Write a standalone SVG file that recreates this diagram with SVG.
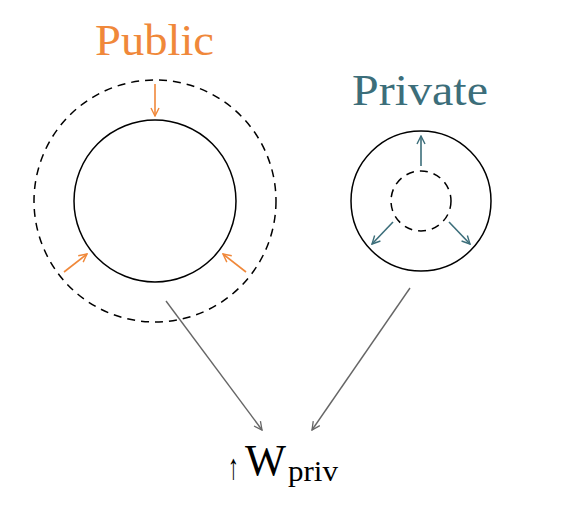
<svg xmlns="http://www.w3.org/2000/svg" width="562" height="518" viewBox="0 0 562 518">
<style>
.solid{fill:none;stroke:#000;stroke-width:1.5}
.dash{fill:none;stroke:#000;stroke-width:1.5;stroke-dasharray:8,6}
.or{stroke:#F0883A;stroke-width:1.6;fill:none}
.tl{stroke:#3C6E7A;stroke-width:1.6;fill:none}
.gr{stroke:#666;stroke-width:1.4;fill:none}
text{font-family:"Liberation Serif","DejaVu Serif",serif}
</style>
<defs>
<marker id="ao" viewBox="0 0 10 10" refX="9" refY="5" markerWidth="10" markerHeight="10" markerUnits="userSpaceOnUse" orient="auto"><path d="M1,1 L9,5 L1,9" fill="none" stroke="#F0883A" stroke-width="1.4"/></marker>
<marker id="at" viewBox="0 0 10 10" refX="9" refY="5" markerWidth="10" markerHeight="10" markerUnits="userSpaceOnUse" orient="auto"><path d="M1,1 L9,5 L1,9" fill="none" stroke="#3C6E7A" stroke-width="1.4"/></marker>
<marker id="ag" viewBox="0 0 10 10" refX="9" refY="5" markerWidth="10" markerHeight="10" markerUnits="userSpaceOnUse" orient="auto"><path d="M1,1 L9,5 L1,9" fill="none" stroke="#666" stroke-width="1.3"/></marker>
</defs>
<g id="public">
<text x="95" y="55" font-size="44" fill="#F0883A" textLength="119" lengthAdjust="spacingAndGlyphs">Public</text>
<circle class="dash" cx="155" cy="201" r="121"/>
<circle class="solid" cx="155" cy="201" r="81"/>
<line class="or" x1="155" y1="84" x2="155" y2="116" marker-end="url(#ao)"/>
<line class="or" x1="64" y1="272" x2="87" y2="254" marker-end="url(#ao)"/>
<line class="or" x1="246" y1="272" x2="223" y2="254" marker-end="url(#ao)"/>
</g>
<g id="private">
<text x="352" y="105" font-size="44" fill="#3C6E7A" textLength="136" lengthAdjust="spacingAndGlyphs">Private</text>
<circle class="solid" cx="421" cy="201" r="70"/>
<circle class="dash" cx="421" cy="201" r="30"/>
<line class="tl" x1="421" y1="166" x2="421" y2="136" marker-end="url(#at)"/>
<line class="tl" x1="393" y1="222" x2="372" y2="244" marker-end="url(#at)"/>
<line class="tl" x1="449" y1="222" x2="470" y2="244" marker-end="url(#at)"/>
</g>
<g id="wpriv">
<text x="228" y="479" font-size="36" fill="#000" font-family="'DejaVu Serif', serif" textLength="11" lengthAdjust="spacingAndGlyphs">↑</text>
<text x="245" y="475" font-size="44" fill="#000" textLength="41" lengthAdjust="spacingAndGlyphs">W</text>
<text x="288" y="481" font-size="30" fill="#000" textLength="50" lengthAdjust="spacingAndGlyphs">priv</text>
</g>
<g id="connectors">
<line class="gr" x1="166" y1="301" x2="262" y2="430" marker-end="url(#ag)"/>
<line class="gr" x1="410" y1="288" x2="312" y2="430" marker-end="url(#ag)"/>
</g>
</svg>
